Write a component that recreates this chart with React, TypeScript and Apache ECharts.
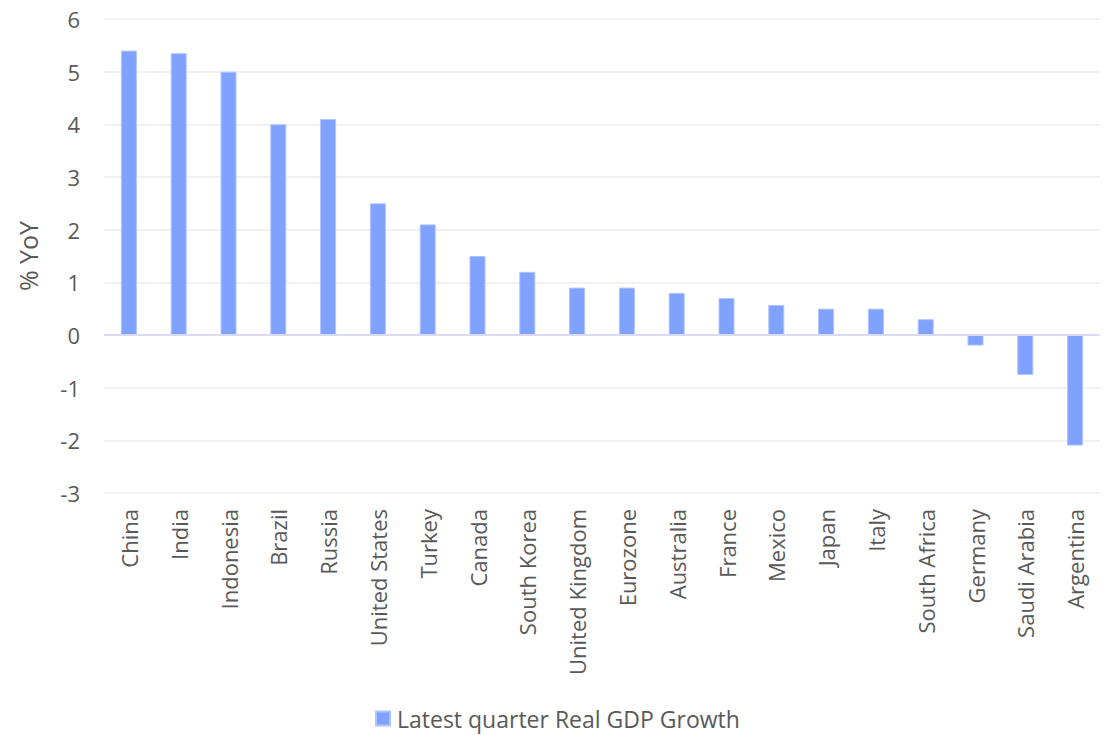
import React, { useEffect, useRef } from "react";
import * as echarts from "echarts";

const categories = [
  "China", "India", "Indonesia", "Brazil", "Russia", "United States", "Turkey",
  "Canada", "South Korea", "United Kingdom", "Eurozone", "Australia", "France",
  "Mexico", "Japan", "Italy", "South Africa", "Germany", "Saudi Arabia", "Argentina",
];
const gdpGrowth = [
  5.4, 5.35, 5.0, 4.0, 4.1, 2.5, 2.1, 1.5, 1.2, 0.9, 0.9, 0.8, 0.7, 0.57, 0.5, 0.5, 0.3,
  -0.2, -0.76, -2.1,
];
const seriesName = "Latest quarter Real GDP Growth";
const yAxisName = "% YoY";

const FONT = "'Open Sans', 'Noto Sans', sans-serif";
const TEXT = "#595959";

export default function App() {
  const ref = useRef<HTMLDivElement>(null);
  useEffect(() => {
    if (!ref.current) return;
    const chart = echarts.init(ref.current, undefined, { renderer: "svg" });
    chart.setOption({
      animation: false,
      textStyle: { fontFamily: FONT },
      grid: { left: 104, right: 7, top: 19, bottom: 242, outerBoundsMode: "none", containLabel: false },
      legend: {
        top: 707,
        left: 375,
        padding: [0, 0, 0, 0],
        itemWidth: 14,
        itemHeight: 14,
        itemGap: 10,
        icon: "rect",
        textStyle: { fontSize: 23, color: TEXT, fontFamily: FONT, padding: [0, 0, 0, 2] },
        data: [seriesName],
      },
      xAxis: {
        type: "category",
        data: categories,
        axisLine: { show: false, onZero: false },
        axisTick: { show: false },
        axisLabel: {
          rotate: 90,
          interval: 0,
          fontSize: 22,
          color: TEXT,
          margin: 16,
          verticalAlign: "middle",
        },
      },
      yAxis: {
        type: "value",
        min: -3,
        max: 6,
        interval: 1,
        name: yAxisName,
        nameLocation: "middle",
        nameGap: 64,
        nameTextStyle: { fontSize: 25, color: TEXT, fontFamily: FONT },
        axisLine: { show: false },
        axisTick: { show: false },
        axisLabel: { fontSize: 22, color: TEXT, margin: 24 },
        splitLine: { lineStyle: { color: "#f1f1f1", width: 2 } },
      },
      series: [
        {
          name: seriesName,
          type: "bar",
          data: gdpGrowth,
          barWidth: 16,
          itemStyle: { color: "#7fa2ff", borderColor: "#aec3ff", borderWidth: 1 },
          markLine: {
            silent: true,
            symbol: "none",
            label: { show: false },
            lineStyle: { color: "#dadaf5", width: 2, type: "solid" },
            data: [{ yAxis: 0 }],
          },
        },
      ],
    });
    return () => chart.dispose();
  }, []);
  return (
    <div
      ref={ref}
      style={{ position: "fixed", left: 0, top: 0, width: 1107, height: 735, background: "#fff" }}
    />
  );
}
